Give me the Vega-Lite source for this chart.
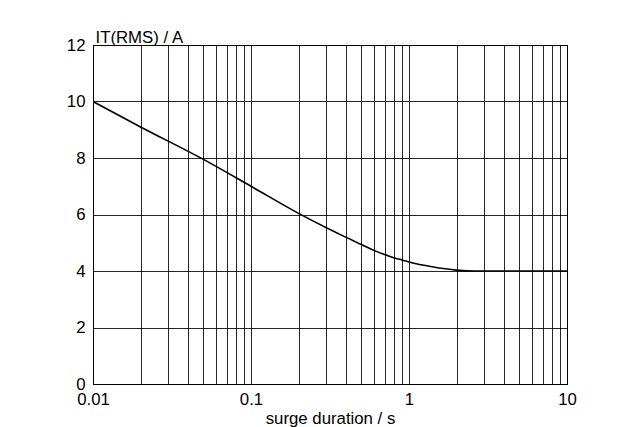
{
  "$schema": "https://vega.github.io/schema/vega-lite/v6.json",
  "autosize": {"type": "none"},
  "width": 474,
  "height": 339,
  "padding": {"left": 93, "top": 45, "right": 68, "bottom": 43},
  "background": "white",
  "config": {
    "font": "Liberation Sans",
    "view": {"stroke": "black", "strokeWidth": 1},
    "axis": {
      "labelFont": "Liberation Sans",
      "titleFont": "Liberation Sans",
      "labelFontSize": 16.8,
      "titleFontSize": 16.8,
      "labelColor": "black",
      "titleColor": "black",
      "titleFontWeight": "normal",
      "domainColor": "black",
      "gridColor": "black",
      "gridOpacity": 0.85,
      "gridWidth": 1,
      "ticks": false
    }
  },
  "data": {
    "values": [
      {"t": 0.01, "i": 10.0},
      {"t": 0.02, "i": 9.1},
      {"t": 0.05, "i": 7.95},
      {"t": 0.1, "i": 7.0},
      {"t": 0.2, "i": 6.04},
      {"t": 0.3, "i": 5.53},
      {"t": 0.4, "i": 5.19},
      {"t": 0.5, "i": 4.94},
      {"t": 0.6, "i": 4.73},
      {"t": 0.7, "i": 4.58},
      {"t": 0.8, "i": 4.47},
      {"t": 0.9, "i": 4.39},
      {"t": 1.0, "i": 4.32},
      {"t": 1.4, "i": 4.15},
      {"t": 2.0, "i": 4.03},
      {"t": 2.6, "i": 4.0},
      {"t": 10, "i": 4.0}
    ]
  },
  "mark": {"type": "line", "color": "black", "strokeWidth": 1.6, "interpolate": "monotone", "clip": true},
  "encoding": {
    "x": {
      "field": "t",
      "type": "quantitative",
      "scale": {"type": "log", "domain": [0.01, 10], "nice": false},
      "axis": {
        "title": "surge duration / s",
        "titlePadding": 3,
        "labelPadding": 7,
        "values": [0.01, 0.02, 0.03, 0.04, 0.05, 0.06, 0.07, 0.08, 0.09,
                   0.1, 0.2, 0.3, 0.4, 0.5, 0.6, 0.7, 0.8, 0.9,
                   1, 2, 3, 4, 5, 6, 7, 8, 9, 10],
        "format": "~g",
        "labelExpr": "(datum.value == 0.01 || datum.value == 0.1 || datum.value == 1 || datum.value == 10) ? datum.label : ''",
        "labelFlush": false,
        "labelOverlap": false
      }
    },
    "y": {
      "field": "i",
      "type": "quantitative",
      "scale": {"domain": [0, 12], "nice": false},
      "axis": {
        "title": "IT(RMS) / A",
        "values": [0, 2, 4, 6, 8, 10, 12],
        "labelPadding": 8,
        "labelFlush": false,
        "titleAngle": 0,
        "titleAlign": "left",
        "titleBaseline": "alphabetic",
        "titleX": 2,
        "titleY": -3
      }
    }
  }
}
